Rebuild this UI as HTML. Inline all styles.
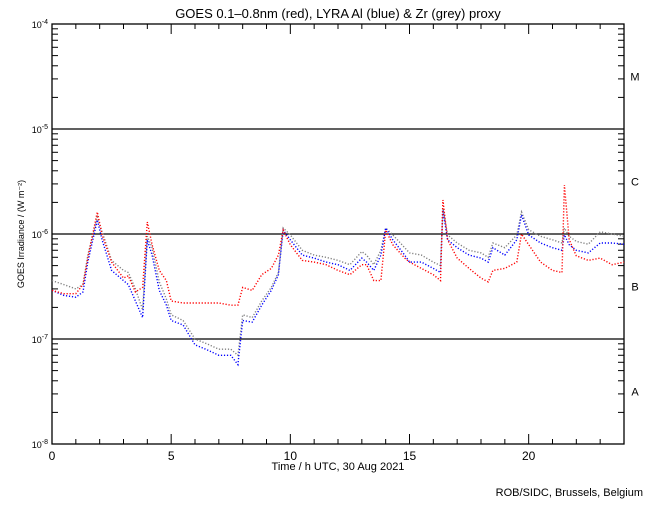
<!DOCTYPE html>
<html><head><meta charset="utf-8"><style>
body{margin:0;background:#fff}
svg text{font-family:"Liberation Sans",sans-serif;fill:#000}
</style></head><body>
<svg id="chart" width="650" height="500" viewBox="0 0 650 500" xmlns="http://www.w3.org/2000/svg">
<rect width="650" height="500" fill="#fff"/>
<text x="338" y="18" font-size="13" text-anchor="middle">GOES 0.1–0.8nm (red), LYRA Al (blue) &amp; Zr (grey) proxy</text>
<text x="338" y="470" font-size="11" text-anchor="middle">Time / h UTC, 30 Aug 2021</text>
<text transform="translate(24,234) rotate(-90)" font-size="9" text-anchor="middle">GOES Irradiance / (W m⁻²)</text>
<text x="643" y="496" font-size="11" text-anchor="end">ROB/SIDC, Brussels, Belgium</text>
<g id="ticks"></g>
<g id="series"></g>
</svg>
<script>
const times=[0,0.5,1,1.3,1.5,1.9,2.1,2.5,3,3.2,3.5,3.8,4,4.2,4.5,4.8,5,5.5,6,6.5,7,7.5,7.8,8,8.4,8.8,9.2,9.5,9.7,10,10.5,11,11.5,12,12.5,13,13.2,13.5,13.8,14,14.3,14.8,15,15.5,16,16.3,16.4,16.6,17,17.5,18,18.3,18.5,19,19.5,19.7,20,20.5,21,21.4,21.5,21.7,22,22.5,23,23.5,24];
// irradiance in units of 1e-7 W m^-2
const goesRed=[2.9,2.7,2.7,3.3,5.9,16.2,9.8,5.4,3.8,4.0,2.8,3.1,13.0,7.9,4.5,3.6,2.3,2.2,2.2,2.2,2.2,2.1,2.1,3.1,2.9,4.1,4.7,6.3,10.9,7.9,5.6,5.4,5.1,4.5,4.1,5.1,5.1,3.6,3.6,10.9,7.9,5.9,5.4,4.7,4.1,3.6,21.1,8.8,5.9,4.7,3.8,3.5,4.5,4.7,5.4,10,7.9,5.4,4.5,4.3,29.3,8.8,6.2,5.6,5.9,5.1,5.4];
const lyraAl=[2.9,2.6,2.5,2.8,5.4,13.6,8.8,4.5,3.6,3.3,2.3,1.6,8.8,6.3,2.9,2.1,1.5,1.36,0.88,0.79,0.70,0.70,0.57,1.5,1.45,2.1,2.9,4.1,10.9,8.8,6.3,5.9,5.4,5.1,4.5,5.9,5.4,4.5,6.3,11.4,8.8,6.3,5.4,5.4,4.7,4.3,16.9,8.8,7.4,6.3,5.9,5.4,7.4,6.3,8.8,15.2,9.8,8.2,7.4,7.0,9.8,7.9,7.0,6.6,8.2,8.2,8.0];
const lyraZr=[3.6,3.3,3.0,3.3,6.3,14.5,10.5,5.6,4.5,4.3,3.0,1.9,9.5,7.4,3.5,2.4,1.7,1.5,1.0,0.9,0.8,0.8,0.7,1.7,1.6,2.3,3.1,4.3,11.4,9.8,7.0,6.3,6.0,5.6,5.1,6.8,6.3,5.1,7.0,11.4,9.8,7.4,6.6,6.3,5.4,5.0,17.5,9.8,8.2,7.0,6.6,6.0,8.2,7.4,9.8,16.2,11.0,9.5,8.8,8.2,11.4,9.5,8.5,8.0,10.5,10.0,9.5];
const xTickLabels=[0,5,10,15,20];
const decadeExp=[-8,-7,-6,-5,-4];
const classLetters=["A","B","C","M"];

const NS="http://www.w3.org/2000/svg";
const L=52,R=624,T=24,B=444;
function xs(t){return L+(t/24)*(R-L);}
function ys(logv){return B-(logv+8)*(B-T)/4;}
function yv(v){return ys(Math.log10(v*1e-7));}
function mk(tag,attrs,parent){const e=document.createElementNS(NS,tag);for(const k in attrs)e.setAttribute(k,attrs[k]);parent.appendChild(e);return e;}
const tg=document.getElementById('ticks');
const frame=mk('rect',{x:L,y:T,width:R-L,height:B-T,fill:'none',stroke:'#000','stroke-width':1.3},tg);


for(let h=0;h<=24;h++){
  const len=h%5===0?10:5,x=xs(h);
  mk('line',{x1:x,y1:B,x2:x,y2:B-len,stroke:'#000'},tg);
  mk('line',{x1:x,y1:T,x2:x,y2:T+len,stroke:'#000'},tg);
}
xTickLabels.forEach(h=>{
  const t=mk('text',{x:xs(h),y:B+16,'font-size':12,'text-anchor':'middle'},tg);
  t.textContent=h;
  
  
});
decadeExp.forEach((e,i)=>{
  const t=mk('text',{x:L-4,y:ys(e)+4,'font-size':9,'text-anchor':'end'},tg);
  t.innerHTML='10<tspan dy="-4" font-size="7">'+e+'</tspan>';
  
  
  if(e>-8&&e<-4){
    const gl=mk('line',{x1:L,y1:ys(e),x2:R,y2:ys(e),stroke:'#000','stroke-width':1.3},tg);
    
    
  }
  if(e<-4){for(let m=2;m<=9;m++){const yy=ys(e+Math.log10(m));
    mk('line',{x1:L,y1:yy,x2:L+6,y2:yy,stroke:'#000'},tg);
    mk('line',{x1:R,y1:yy,x2:R-6,y2:yy,stroke:'#000'},tg);}}
});
classLetters.forEach((c,i)=>{
  const t=mk('text',{x:635,y:(ys(-8+i)+ys(-7+i))/2+4,'font-size':11,'text-anchor':'middle'},tg);
  t.textContent=c;
  
  
});
const sg=document.getElementById('series');
[[lyraZr,'#808080','lyra-zr-series'],[lyraAl,'#0000ff','lyra-al-series'],[goesRed,'#ff0000','goes-series']].forEach(([arr,col,name])=>{
  const pts=arr.map((v,i)=>xs(times[i]).toFixed(1)+','+yv(v).toFixed(1)).join(' ');
  const p=mk('polyline',{points:pts,fill:'none',stroke:col,'stroke-width':1.4,'stroke-dasharray':'1.2 1.8'},sg);
  
  
});
</script>
</body></html>
